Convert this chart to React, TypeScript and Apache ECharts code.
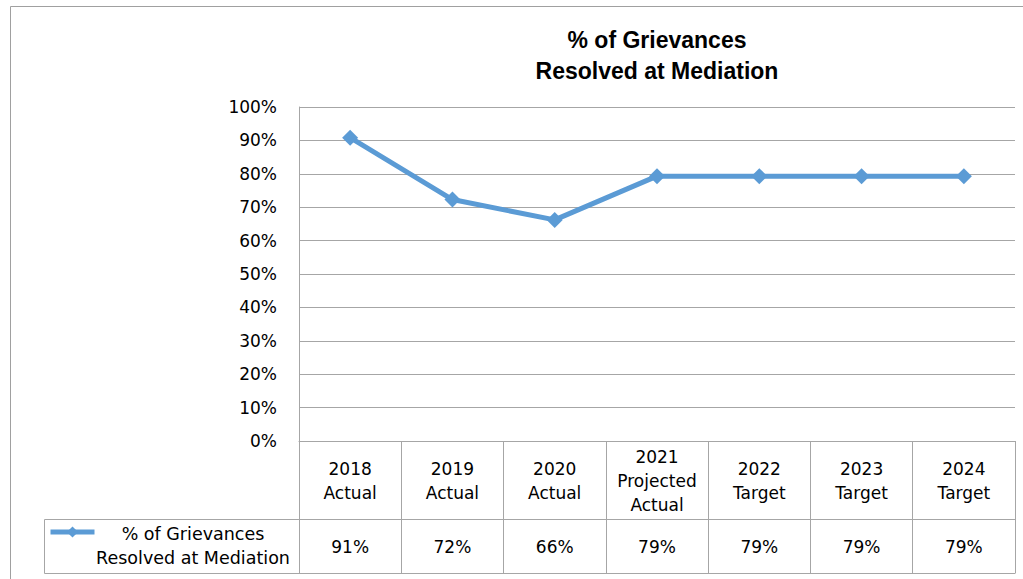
import React, { useEffect, useRef } from "react";
import * as echarts from "echarts";

const categories = [
  "2018\nActual",
  "2019\nActual",
  "2020\nActual",
  "2021\nProjected\nActual",
  "2022\nTarget",
  "2023\nTarget",
  "2024\nTarget",
];
const values = [0.908, 0.723, 0.662, 0.793, 0.793, 0.793, 0.793];
const tableLabels = ["91%", "72%", "66%", "79%", "79%", "79%", "79%"];
const seriesName = "% of Grievances\nResolved at Mediation";
const titleText = "% of Grievances\nResolved at Mediation";

const FONT = "DejaVu Sans";

export default function App() {
  const ref = useRef<HTMLDivElement>(null);
  useEffect(() => {
    if (!ref.current) return;
    const chart = echarts.init(ref.current, undefined, { renderer: "svg" });
    const gridLeft = 299;
    const gridRight = 1015;
    const gridTop = 107;
    const gridBottom = 441;
    const row1 = 519;
    const row2 = 573;
    const gray = "#a6a6a6";
    chart.setOption({
      animation: false,
      backgroundColor: "#ffffff",
      title: {
        text: titleText,
        left: 657,
        textAlign: "center",
        top: 24,
        padding: 0,
        textStyle: {
          fontFamily: "Liberation Sans",
          fontWeight: "bold",
          fontSize: 23,
          lineHeight: 31,
          color: "#000",
        },
      },
      legend: {
        data: [seriesName],
        left: 48,
        top: 525,
        padding: 0,
        itemWidth: 44,
        itemHeight: 14,
        formatter: () => "",
        itemGap: 0,
        selectedMode: false,
        lineStyle: { width: 5 },
      },
      grid: {
        left: gridLeft,
        right: 1023 - gridRight,
        top: gridTop,
        bottom: 579 - gridBottom,
        containLabel: false,
      },
      xAxis: [
        {
          type: "category",
          data: categories,
          position: "bottom",
          boundaryGap: true,
          axisLine: { show: true, lineStyle: { color: gray, width: 1 } },
          axisTick: {
            show: true,
            inside: false,
            length: row2 - gridBottom,
            alignWithLabel: false,
            lineStyle: { color: gray, width: 1 },
          },
          axisLabel: {
            show: true,
            interval: 0,
            margin: (gridBottom + row1) / 2 - gridBottom + 1,
            fontFamily: FONT,
            fontSize: 17,
            lineHeight: 24,
            color: "#000",
            verticalAlign: "middle",
          },
          splitLine: { show: false },
        },
        {
          type: "category",
          data: tableLabels,
          position: "bottom",
          offset: 0,
          boundaryGap: true,
          axisLine: { show: false },
          axisTick: { show: false },
          axisLabel: {
            show: true,
            interval: 0,
            margin: (row1 + row2) / 2 - gridBottom + 1,
            verticalAlign: "middle",
            fontFamily: FONT,
            fontSize: 17,
            color: "#000",
          },
        },
      ],
      yAxis: {
        type: "value",
        min: 0,
        max: 1,
        interval: 0.1,
        axisLine: { show: true, lineStyle: { color: gray, width: 1 } },
        axisTick: { show: false },
        splitLine: { show: true, lineStyle: { color: gray, width: 1 } },
        axisLabel: {
          margin: 22,
          fontFamily: FONT,
          fontSize: 17,
          color: "#000",
          formatter: (v: number) => Math.round(v * 100) + "%",
        },
      },
      series: [
        {
          name: seriesName,
          type: "line",
          data: values,
          xAxisIndex: 0,
          symbol: "diamond",
          symbolSize: 16,
          lineStyle: { color: "#5b9bd5", width: 5 },
          itemStyle: { color: "#5b9bd5" },
        },
      ],
      graphic: [
        {
          type: "line",
          shape: { x1: 10.5, y1: 6.5, x2: 1023, y2: 6.5 },
          style: { stroke: "#a0a0a0", lineWidth: 1 },
        },
        {
          type: "line",
          shape: { x1: 10.5, y1: 6.5, x2: 10.5, y2: 579 },
          style: { stroke: "#a0a0a0", lineWidth: 1 },
        },
        {
          type: "line",
          shape: { x1: 44.5, y1: row1 + 0.5, x2: gridRight + 0.5, y2: row1 + 0.5 },
          style: { stroke: gray, lineWidth: 1 },
        },
        {
          type: "line",
          shape: { x1: 44.5, y1: row2 + 0.5, x2: gridRight + 0.5, y2: row2 + 0.5 },
          style: { stroke: gray, lineWidth: 1 },
        },
        {
          type: "line",
          shape: { x1: 44.5, y1: row1 + 0.5, x2: 44.5, y2: row2 + 0.5 },
          style: { stroke: gray, lineWidth: 1 },
        },
        {
          type: "text",
          x: 193,
          y: 546,
          style: {
            text: seriesName,
            fontFamily: FONT,
            fontSize: 17.5,
            lineHeight: 24,
            fill: "#000",
            align: "center",
            verticalAlign: "middle",
          },
        },
      ],
    });
    return () => chart.dispose();
  }, []);
  return (
    <div
      ref={ref}
      style={{ position: "absolute", left: 0, top: 0, width: 1023, height: 579 }}
    />
  );
}
